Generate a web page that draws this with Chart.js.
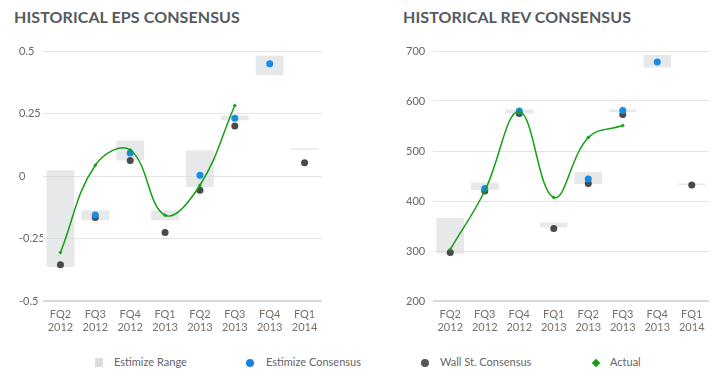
<!DOCTYPE html>
<html>
<head>
<meta charset="utf-8">
<script src="https://cdn.jsdelivr.net/npm/chart.js@4.4.0/dist/chart.umd.min.js"></script>
<style>
  body { margin: 0; background: #fff; font-family: Lato, sans-serif; }
  #page { position: relative; width: 713px; height: 376px; overflow: hidden; }
  .titre { position: absolute; top: 7px; font-size: 16px; font-weight: bold; color: #555a60; letter-spacing: 0.1px; }
  .boite { position: absolute; top: 0; height: 345px; }
  #legende { position: absolute; top: 354px; left: 0; width: 713px; height: 16px; font-size: 11px; color: #666; }
  #legende span { position: absolute; top: 1px; }
  .sym { position: absolute; }
</style>
</head>
<body>
<div id="page">
  <div class="titre" style="left:14px">HISTORICAL EPS CONSENSUS</div>
  <div class="titre" style="left:403px">HISTORICAL REV CONSENSUS</div>
  <div class="boite" style="left:0;width:330px"><canvas id="eps-chart" width="330" height="345"></canvas></div>
  <div class="boite" style="left:356px;width:357px"><canvas id="rev-chart" width="357" height="345"></canvas></div>
  <div id="legende">
    <div class="sym" style="left:95px;top:4px;width:8px;height:9px;background:#dcdde0"></div>
    <span style="left:114px">Estimize Range</span>
    <div class="sym" style="left:246px;top:5px;width:8px;height:8px;border-radius:50%;background:#1a7fe0"></div>
    <span style="left:266px">Estimize Consensus</span>
    <div class="sym" style="left:421px;top:5px;width:8px;height:8px;border-radius:50%;background:#555"></div>
    <span style="left:440px">Wall St. Consensus</span>
    <div class="sym" style="left:593px;top:6px;width:6px;height:6px;transform:rotate(45deg);background:#14a014"></div>
    <span style="left:610px">Actual</span>
  </div>
</div>
<script>
// Trimestres fiscaux (deux lignes par étiquette)
var trimestres = [['FQ2', '2012'], ['FQ3', '2012'], ['FQ4', '2012'], ['FQ1', '2013'], ['FQ2', '2013'], ['FQ3', '2013'], ['FQ4', '2013'], ['FQ1', '2014']];

// BPA (EPS)
var epsFourchette = [[-0.364, 0.023], [-0.177, -0.137], [0.062, 0.142], [-0.177, -0.137], [-0.044, 0.102], [0.223, 0.242], [0.403, 0.481], [0.105, 0.107]];
var epsEstimize = [null, -0.156, 0.092, null, 0.003, 0.231, 0.449, null];
var epsWallSt = [-0.355, -0.166, 0.062, -0.226, -0.057, 0.200, null, 0.053];
var epsReel = [-0.306, 0.043, 0.104, -0.157, -0.037, 0.282, null, null];
var epsTicks = [-0.5, -0.25, 0, 0.25, 0.5];

// Chiffre d'affaires (REV)
var revFourchette = [[295, 366], [422, 437], [575, 583], [347, 357], [434, 458], [578, 583], [667, 692], [432, 434]];
var revEstimize = [null, 425, 580, null, 444, 581, 678, null];
var revWallSt = [297, 420, 575, 345, 435, 573, null, 432];
var revReel = [303, 420, 579, 407, 527, 551, null, null];
var revTicks = [200, 300, 400, 500, 600, 700];

var police = { family: 'Lato, sans-serif', size: 11 };

function creerGraphique(id, fourchette, estimize, wallSt, reel, ticks, min, max, gauche, droite, largeurAxe) {
  var ctx = document.getElementById(id).getContext('2d');
  return new Chart(ctx, {
    data: {
      labels: trimestres,
      datasets: [
        {
          type: 'line',
          label: 'Actual',
          data: reel,
          borderColor: '#14a014',
          backgroundColor: '#14a014',
          borderWidth: 1.5,
          tension: 0.4,
          pointStyle: 'rectRot',
          pointRadius: 2,
          pointBorderWidth: 0,
          spanGaps: false,
          order: 0
        },
        {
          type: 'line',
          label: 'Estimize Consensus',
          data: estimize,
          showLine: false,
          backgroundColor: '#1a8be2',
          pointRadius: 3.5,
          pointBorderWidth: 0,
          order: 1
        },
        {
          type: 'line',
          label: 'Wall St. Consensus',
          data: wallSt,
          showLine: false,
          backgroundColor: '#4a4a4a',
          pointRadius: 3.5,
          pointBorderWidth: 0,
          order: 2
        },
        {
          type: 'bar',
          label: 'Estimize Range',
          data: fourchette,
          backgroundColor: 'rgba(214, 216, 220, 0.6)',
          barPercentage: 0.8,
          categoryPercentage: 1,
          minBarLength: 1.5,
          order: 3
        }
      ]
    },
    options: {
      responsive: false,
      animation: false,
      layout: { padding: { left: gauche, right: droite, top: 51, bottom: 4 } },
      plugins: { legend: { display: false }, tooltip: { enabled: false } },
      scales: {
        x: {
          offset: true,
          grid: { display: false, drawTicks: false },
          border: { display: false },
          ticks: { color: '#7a7068', font: police, padding: 7, maxRotation: 0, autoSkip: false },
          afterFit: function (s) { s.height = 40; }
        },
        y: {
          min: min,
          max: max,
          afterBuildTicks: function (s) { s.ticks = ticks.map(function (v) { return { value: v }; }); },
          grid: { color: '#e4e4e4', lineWidth: 1, drawTicks: false },
          border: { display: false },
          ticks: {
            color: '#666',
            font: police,
            crossAlign: 'far',
            padding: 0,
            callback: function (v) { return String(v); }
          },
          afterFit: function (s) { s.width = largeurAxe; }
        }
      }
    },
    plugins: [{
      id: 'ligneBas',
      beforeDatasetsDraw: function (chart) {
        var a = chart.chartArea, c = chart.ctx;
        c.save();
        c.strokeStyle = '#d8d8d8';
        c.lineWidth = 2;
        c.beginPath();
        c.moveTo(a.left, a.bottom);
        c.lineTo(a.right, a.bottom);
        c.stroke();
        c.restore();
      }
    }]
  });
}

creerGraphique('eps-chart', epsFourchette, epsEstimize, epsWallSt, epsReel, epsTicks, -0.5, 0.5, 19, 8, 24);
creerGraphique('rev-chart', revFourchette, revEstimize, revWallSt, revReel, revTicks, 200, 700, 50, 2, 27);
</script>
</body>
</html>
